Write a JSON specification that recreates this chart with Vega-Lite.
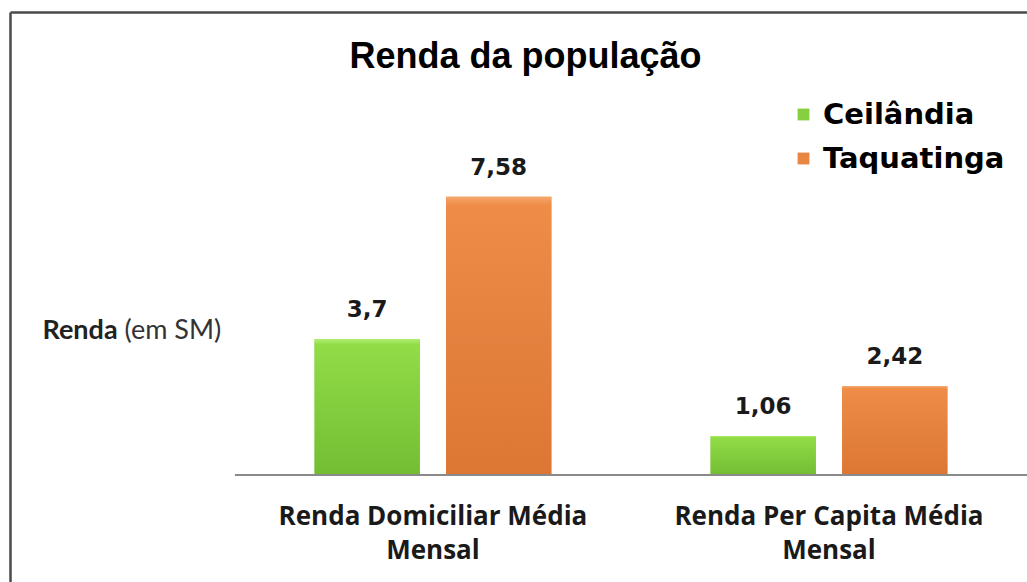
{
  "$schema": "https://vega.github.io/schema/vega-lite/v6.json",
  "width": 1017,
  "height": 570,
  "autosize": {"type": "none"},
  "padding": {"left": 10, "top": 12, "right": 0, "bottom": 0},
  "background": "white",
  "title": {
    "text": "Renda da população",
    "font": "Liberation Sans",
    "fontSize": 36,
    "fontWeight": "bold",
    "color": "#000000",
    "anchor": "middle",
    "offset": -64,
    "dx": 7
  },
  "data": {
    "values": [
      {"group": "Renda Domiciliar Média Mensal", "series": "Ceilândia", "value": 3.7},
      {"group": "Renda Domiciliar Média Mensal", "series": "Taquatinga", "value": 7.58},
      {"group": "Renda Per Capita Média Mensal", "series": "Ceilândia", "value": 1.06},
      {"group": "Renda Per Capita Média Mensal", "series": "Taquatinga", "value": 2.42}
    ]
  },
  "layer": [
    {
      "mark": {"type": "bar", "strokeWidth": 0},
      "encoding": {
        "x": {
          "field": "group",
          "type": "nominal",
          "sort": null,
          "scale": {"paddingInner": 0, "paddingOuter": 0.284, "align": 1},
          "axis": {
            "orient": "bottom",
            "offset": -79,
            "title": null,
            "domain": false,
            "ticks": false,
            "labelAngle": 0,
            "labelFont": "Open Sans",
            "labelFontSize": 26,
            "labelFontWeight": "bold",
            "labelColor": "#1a1a1a",
            "labelPadding": 0,
            "labelBaseline": "top",
            "labelLineHeight": 34,
            "labelLimit": 0,
            "labelOverlap": false,
            "labelBound": false,
            "labelExpr": "[replace(datum.value, ' Mensal', ''), 'Mensal']"
          }
        },
        "xOffset": {
          "field": "series",
          "type": "nominal",
          "scale": {"paddingInner": 0.2, "paddingOuter": 0.605}
        },
        "y": {
          "field": "value",
          "type": "quantitative",
          "scale": {"domain": [-2.92, 12.62], "nice": false, "zero": false},
          "axis": {
            "orient": "left",
            "values": [],
            "title": "Renda",
            "titleFont": "Lato",
            "titleFontSize": 27,
            "titleFontWeight": "bold",
            "titleColor": "#222222",
            "titleAngle": 0,
            "titleAlign": "left",
            "titleBaseline": "middle",
            "titleX": 32,
            "titleY": 318,
            "labels": false,
            "ticks": false,
            "domain": true,
            "domainColor": "#4a4a4a",
            "domainWidth": 2.5,
            "grid": false
          }
        },
        "color": {
          "field": "series",
          "type": "nominal",
          "scale": {"range": ["#86cf3e", "#e98641"]},
          "legend": {
            "orient": "none",
            "legendX": 779,
            "legendY": 88,
            "title": null,
            "symbolType": "square",
            "symbolSize": 140,
            "symbolStrokeWidth": 0,
            "labelFont": "DejaVu Sans",
            "labelFontSize": 29,
            "labelFontWeight": "bold",
            "labelColor": "#000000",
            "labelLimit": 0,
            "rowPadding": 14,
            "labelOffset": 5
          }
        }
      }
    },
    {
      "mark": {"type": "bar", "strokeWidth": 0},
      "encoding": {
        "x": {"field": "group", "type": "nominal", "sort": null, "axis": null},
        "xOffset": {"field": "series", "type": "nominal"},
        "y": {"field": "value", "type": "quantitative", "axis": null},
        "color": {
          "condition": {
            "test": "datum.series === 'Ceilândia'",
            "value": {
              "gradient": "linear", "x1": 0, "y1": 0, "x2": 0, "y2": 1,
              "stops": [
                {"offset": 0, "color": "#b0f070"},
                {"offset": 0.04, "color": "#92dc48"},
                {"offset": 1, "color": "#72bd32"}
              ]
            }
          },
          "value": {
            "gradient": "linear", "x1": 0, "y1": 0, "x2": 0, "y2": 1,
            "stops": [
              {"offset": 0, "color": "#f6a86c"},
              {"offset": 0.03, "color": "#ee8c48"},
              {"offset": 1, "color": "#dc7634"}
            ]
          }
        }
      }
    },
    {
      "data": {"values": [{}]},
      "mark": {"type": "rule", "color": "#8a8a8a", "strokeWidth": 2},
      "encoding": {
        "x": {"datum": "Renda Domiciliar Média Mensal", "type": "nominal", "bandPosition": 0, "axis": null},
        "x2": {"datum": "Renda Per Capita Média Mensal", "bandPosition": 1},
        "y": {"datum": 0, "type": "quantitative", "axis": null}
      }
    },
    {
      "mark": {
        "type": "text",
        "font": "DejaVu Sans",
        "fontSize": 23,
        "fontWeight": "bold",
        "color": "#1a1a1a",
        "baseline": "alphabetic",
        "dy": -22
      },
      "encoding": {
        "x": {
          "field": "group",
          "type": "nominal",
          "sort": null,
          "axis": {
            "orient": "top",
            "title": null,
            "labels": false,
            "ticks": false,
            "grid": false,
            "domain": true,
            "domainColor": "#4a4a4a",
            "domainWidth": 2.5
          }
        },
        "xOffset": {"field": "series", "type": "nominal"},
        "y": {
          "field": "value",
          "type": "quantitative",
          "axis": {
            "orient": "right",
            "values": [],
            "title": "(em SM)",
            "titleFont": "Lato",
            "titleFontSize": 27,
            "titleFontWeight": "normal",
            "titleColor": "#333333",
            "titleAngle": 0,
            "titleAlign": "left",
            "titleBaseline": "middle",
            "titleX": -903,
            "titleY": 318,
            "labels": false,
            "ticks": false,
            "domain": false,
            "grid": false
          }
        },
        "text": {"field": "value", "type": "quantitative", "format": ".3~r"}
      }
    }
  ],
  "resolve": {"axis": {"x": "independent", "y": "independent"}},
  "config": {
    "view": {"stroke": null},
    "locale": {
      "number": {"decimal": ",", "thousands": ".", "grouping": [3], "currency": ["R$", ""]}
    }
  }
}
